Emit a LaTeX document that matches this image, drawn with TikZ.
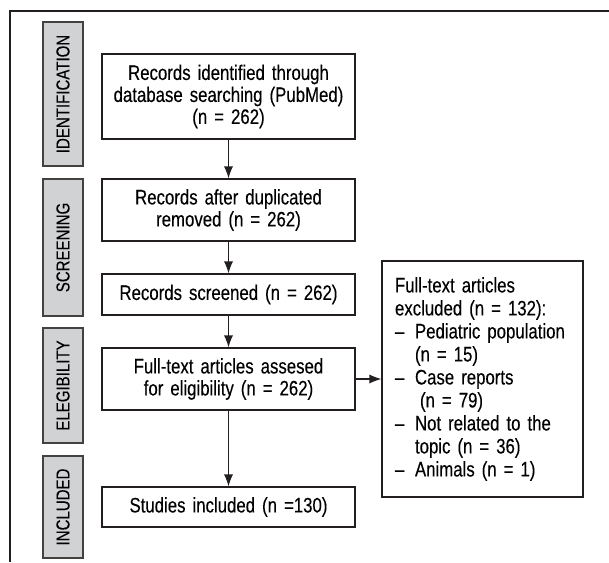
\documentclass[tikz,border=0pt]{standalone}
\usepackage{fontspec}
\setmainfont{Liberation Sans}[FakeStretch=0.8, FakeBold=0.2]
\usepackage{xcolor}
\usepackage{tikz}
\usetikzlibrary{arrows.meta}

\definecolor{stagegray}{HTML}{D1D2D4}
\definecolor{inkline}{HTML}{231F20}
\newcommand{\exdash}{\makebox[10pt][l]{–}}
\newcommand{\exind}{\hspace*{10pt}}

\begin{document}
\begin{tikzpicture}[x=0.5pt, y=-0.5pt, >={Latex[length=6pt,width=4.6pt]},
    box/.style={draw=inkline, line width=0.6pt, fill=white, text width=126.5pt,
        inner xsep=0pt, inner ysep=0pt, align=center,
        font=\fontsize{10.5pt}{11pt}\selectfont},
    exbox/.style={draw=inkline, line width=0.6pt, fill=white, text width=87.5pt,
        inner xsep=6.5pt, inner ysep=0pt, align=left, minimum height=118pt,
        font=\fontsize{10.5pt}{11.5pt}\selectfont},
    stage/.style={draw=inkline!85, fill=stagegray, line width=0.6pt, rotate=90,
        inner sep=0pt, minimum height=20pt,
        font=\fontsize{9.4pt}{10pt}\selectfont}]

    \useasboundingbox (0,0) rectangle (609,562);

    % Outer frame (top and left only)
    \draw[inkline, line width=1.25pt] (609,11) -- (10,11) -- (10,562);

    % Stage labels
    \foreach \name/\y/\len/\lbl in {
        ident/94/72pt/IDENTIFICATION,
        screen/247.5/68.5pt/SCREENING,
        elig/385.5/57.5pt/ELEGIBILITY,
        incl/507/51pt/INCLUDED
    }
    {
        \node[stage, minimum width=\len] (\name) at (63,\y) {\lbl};
    }

    % Main flow
    \node[box, minimum height=42.5pt] (rec1) at (228.5,96.5)
        {Records identified through\\database searching (PubMed)\\(n = 262)};
    \node[box, minimum height=31pt] (rec2) at (228.5,210)
        {Records after duplicated\\removed (n = 262)};
    \node[box, minimum height=20.5pt] (rec3) at (228.5,294.5)
        {Records screened (n = 262)};
    \node[box, minimum height=31pt] (rec4) at (228.5,379)
        {Full-text articles assesed\\for eligibility (n = 262)};
    \node[box, minimum height=20pt] (rec5) at (228.5,507)
        {Studies included (n =130)};

    % Exclusions
    \node[exbox] (excl) at (482.5,379)
        {Full-text articles\\
         excluded (n = 132):\\
         \exdash Pediatric population\\
         \exind(n = 15)\\
         \exdash Case reports\\
         \exind\hspace*{2.5pt}(n = 79)\\
         \exdash Not related to the\\
         \exind topic (n = 36)\\
         \exdash Animals (n = 1)};

    % Arrows
    \foreach \a/\b in {rec1/rec2, rec2/rec3, rec3/rec4, rec4/rec5}
    {
        \draw[->, inkline, line width=0.6pt] (\a) -- (\b);
    }
    \draw[->, inkline, line width=0.6pt] (rec4) -- (excl);

\end{tikzpicture}
\end{document}
